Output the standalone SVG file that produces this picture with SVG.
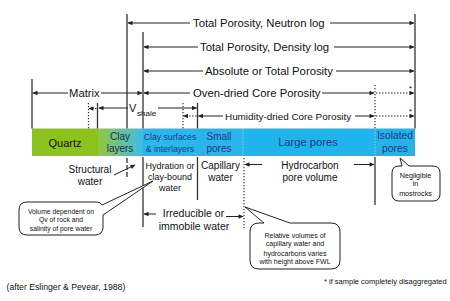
<svg xmlns="http://www.w3.org/2000/svg" width="450" height="301" viewBox="0 0 450 301">
<style>
.t{font-family:"Liberation Sans",Arial,sans-serif;fill:#111}
.c{text-anchor:middle}
.b1{fill:#1e3785}
.v{stroke:#333;stroke-width:1.3;fill:none}
.a{stroke:#222;stroke-width:1;fill:none;marker-end:url(#ah)}
.ad{stroke:#222;stroke-width:1;fill:none;stroke-dasharray:1.5 1.5;marker-end:url(#ah)}
.dt{stroke:#333;stroke-width:1.2;fill:none;stroke-dasharray:1.2 1.8}
.co{fill:#fff;stroke:#222;stroke-width:1}
</style>
<defs>
<marker id="ah" viewBox="0 0 10 10" refX="9" refY="5" markerWidth="6" markerHeight="5" markerUnits="userSpaceOnUse" orient="auto"><path d="M0,0.5 L10,5 L0,9.5 z" fill="#222"/></marker>
<linearGradient id="gclay" x1="0" y1="0" x2="1" y2="0"><stop offset="0" stop-color="#93c73a"/><stop offset="1" stop-color="#3fbde8"/></linearGradient>
</defs>
<rect width="450" height="301" fill="#fff"/>

<g id="band">
<g id="quartz"><rect x="32" y="128.5" width="66" height="27.5" fill="#8cc21c"/><text class="t c" x="65" y="147" font-size="11" fill="#1a1a1a">Quartz</text></g>
<g id="clay-layers"><rect x="98" y="128.5" width="45" height="27.5" fill="url(#gclay)"/><text class="t c" x="120" y="140" font-size="10" style="fill:#1c2c55">Clay</text><text class="t c" x="120" y="152" font-size="10" style="fill:#1c2c55">layers</text></g>
<g id="clay-surfaces"><rect x="143" y="128.5" width="55" height="27.5" fill="#2db6e8"/><text class="t c b1" x="170" y="140" font-size="8.7">Clay surfaces</text><text class="t c b1" x="170" y="152" font-size="8.7">&amp; interlayers</text></g>
<g id="small-pores"><rect x="198" y="128.5" width="45" height="27.5" fill="#2ab5ea"/><text class="t c b1" x="219" y="140" font-size="10">Small</text><text class="t c b1" x="219" y="152" font-size="10">pores</text></g>
<g id="large-pores"><rect x="243" y="128.5" width="132" height="27.5" fill="#1fb4ec"/><text class="t c b1" x="308" y="146" font-size="11.2">Large pores</text></g>
<g id="isolated-pores"><rect x="375" y="128.5" width="40" height="27.5" fill="#22b3e9"/><text class="t c b1" x="395" y="139" font-size="10.3">Isolated</text><text class="t c b1" x="395" y="152" font-size="10.3">pores</text></g>
<line x1="243" y1="129" x2="243" y2="156" stroke="#7ed5f2" stroke-width="1" stroke-dasharray="1.5 1.5"/>
<line x1="375" y1="129" x2="375" y2="156" stroke="#7ed5f2" stroke-width="1" stroke-dasharray="1.5 1.5"/>
</g>

<g id="connectors">
<line class="v" x1="32" y1="79" x2="32" y2="128.5"/>
<line class="dt" x1="88.5" y1="103" x2="88.5" y2="128.5"/>
<line class="v" x1="97.5" y1="103" x2="97.5" y2="128.5"/>
<line class="v" x1="127" y1="14" x2="127" y2="128.5"/>
<line class="v" x1="127" y1="158" x2="127" y2="177" stroke-dasharray="5 2"/>
<line class="v" x1="143" y1="32" x2="143" y2="128.5"/>
<line class="v" x1="143" y1="157" x2="143" y2="227"/>
<line class="dt" x1="183" y1="103" x2="183" y2="128.5"/>
<line class="v" x1="197.5" y1="103" x2="197.5" y2="128.5"/>
<line class="v" x1="197.5" y1="157" x2="197.5" y2="200"/>
<line class="dt" x1="244" y1="158" x2="244" y2="228"/>
<line class="dt" x1="375" y1="85" x2="375" y2="128.5"/>
<line class="v" x1="375" y1="157" x2="375" y2="205"/>
<line class="v" x1="415" y1="14" x2="415" y2="128.5"/>

<line class="a" x1="190" y1="23" x2="128" y2="23"/>
<line class="a" x1="330" y1="23" x2="414" y2="23"/>
<line class="a" x1="198" y1="47" x2="144" y2="47"/>
<line class="a" x1="334" y1="47" x2="414" y2="47"/>
<line class="a" x1="203" y1="71" x2="144" y2="71"/>
<line class="a" x1="336" y1="71" x2="414" y2="71"/>
<line class="a" x1="190" y1="93" x2="144" y2="93"/>
<line class="a" x1="322" y1="93" x2="374" y2="93"/>
<line class="ad" x1="376" y1="93" x2="414" y2="93"/>
<line class="a" x1="68" y1="93" x2="33" y2="93"/>
<line class="a" x1="101" y1="93" x2="142" y2="93"/>
<line class="a" x1="128" y1="108" x2="99" y2="108"/>
<line class="a" x1="158" y1="108" x2="196.5" y2="108"/>
<line class="ad" x1="96.5" y1="108.5" x2="89" y2="108.5"/>
<line class="ad" x1="196.5" y1="116" x2="183.5" y2="116"/>
<line class="a" x1="223" y1="116" x2="198.5" y2="116"/>
<line class="a" x1="355" y1="116" x2="374" y2="116"/>
<line class="ad" x1="376" y1="116" x2="414" y2="116"/>

<line class="a" x1="114" y1="175" x2="135" y2="165"/>
<line class="a" x1="262" y1="164.5" x2="245" y2="164.5"/>
<line class="a" x1="354" y1="164.5" x2="374" y2="164.5"/>
<line class="a" x1="156" y1="214" x2="144" y2="214"/>
<line class="a" x1="226" y1="216.5" x2="243" y2="216.5"/>
</g>

<g id="labels">
<text class="t" x="193" y="27" font-size="11.3">Total Porosity, Neutron log</text>
<text class="t" x="200" y="51" font-size="11.3">Total Porosity, Density log</text>
<text class="t" x="205" y="75" font-size="11.3">Absolute or Total Porosity</text>
<text class="t" x="193" y="97" font-size="11.3">Oven-dried Core Porosity</text>
<text class="t" x="69" y="97" font-size="11.3">Matrix</text>
<text class="t" x="129" y="112" font-size="11">V</text>
<text class="t" x="137" y="115.5" font-size="8">shale</text>
<text class="t" x="225" y="119.5" font-size="9.9">Humidity-dried Core Porosity</text>
<text class="t" x="409" y="91" font-size="8">*</text>
<text class="t" x="409" y="114" font-size="8">*</text>
</g>

<g id="structural-water"><text class="t c" x="90" y="173" font-size="10">Structural</text><text class="t c" x="90" y="185" font-size="10">water</text></g>
<g id="hydration-water"><text class="t c" x="170" y="169" font-size="9">Hydration or</text><text class="t c" x="170" y="180" font-size="9">clay-bound</text><text class="t c" x="170" y="191" font-size="9">water</text></g>
<g id="capillary-water"><text class="t c" x="220.5" y="169" font-size="10">Capillary</text><text class="t c" x="220.5" y="180.5" font-size="10">water</text></g>
<g id="hydrocarbon"><text class="t c" x="310" y="169" font-size="10">Hydrocarbon</text><text class="t c" x="310" y="180.5" font-size="10">pore volume</text></g>
<g id="irreducible-water"><text class="t c" x="193.5" y="217" font-size="10.5">Irreducible or</text><text class="t c" x="194" y="229.5" font-size="10.5">immobile water</text></g>

<g id="callout-qv">
<path class="co" d="M27,202 H95 Q101,202 102,205 L153,181 L103,215 V227 Q103,235 95,235 H27 Q19,235 19,227 V210 Q19,202 27,202 Z"/>
<text class="t c" x="61" y="213.5" font-size="6.8">Volume dependent on</text>
<text class="t c" x="61" y="222" font-size="6.8">Qv of rock and</text>
<text class="t c" x="61" y="230.5" font-size="6.8">salinity of pore water</text>
</g>
<g id="callout-fwl">
<path class="co" d="M259,223 H264 L245,207 L290,223 H331 Q340,223 340,232 V260 Q340,269 331,269 H259 Q250,269 250,260 V232 Q250,223 259,223 Z"/>
<text class="t c" x="295" y="237.5" font-size="7">Relative volumes of</text>
<text class="t c" x="295" y="246.3" font-size="7">capillary water and</text>
<text class="t c" x="295" y="255.5" font-size="7">hydrocarbons varies</text>
<text class="t c" x="295" y="264.3" font-size="7">with height above FWL</text>
</g>
<g id="callout-negligible">
<path class="co" d="M399,166 H402 L400,158 L409,166 H433 Q440,166 440,173 V194 Q440,201 433,201 H399 Q392,201 392,194 V173 Q392,166 399,166 Z"/>
<text class="t c" x="415.5" y="177.5" font-size="7.2">Negligible</text>
<text class="t c" x="415.5" y="186" font-size="7.2">in</text>
<text class="t c" x="415.5" y="195.5" font-size="7.2">mostrocks</text>
</g>

<g id="notes">
<text class="t" x="6.5" y="289.5" font-size="8.7">(after Eslinger &amp; Pevear, 1988)</text>
<text class="t" x="324" y="284.3" font-size="7.5">* if sample completely disaggregated</text>
</g>
</svg>
